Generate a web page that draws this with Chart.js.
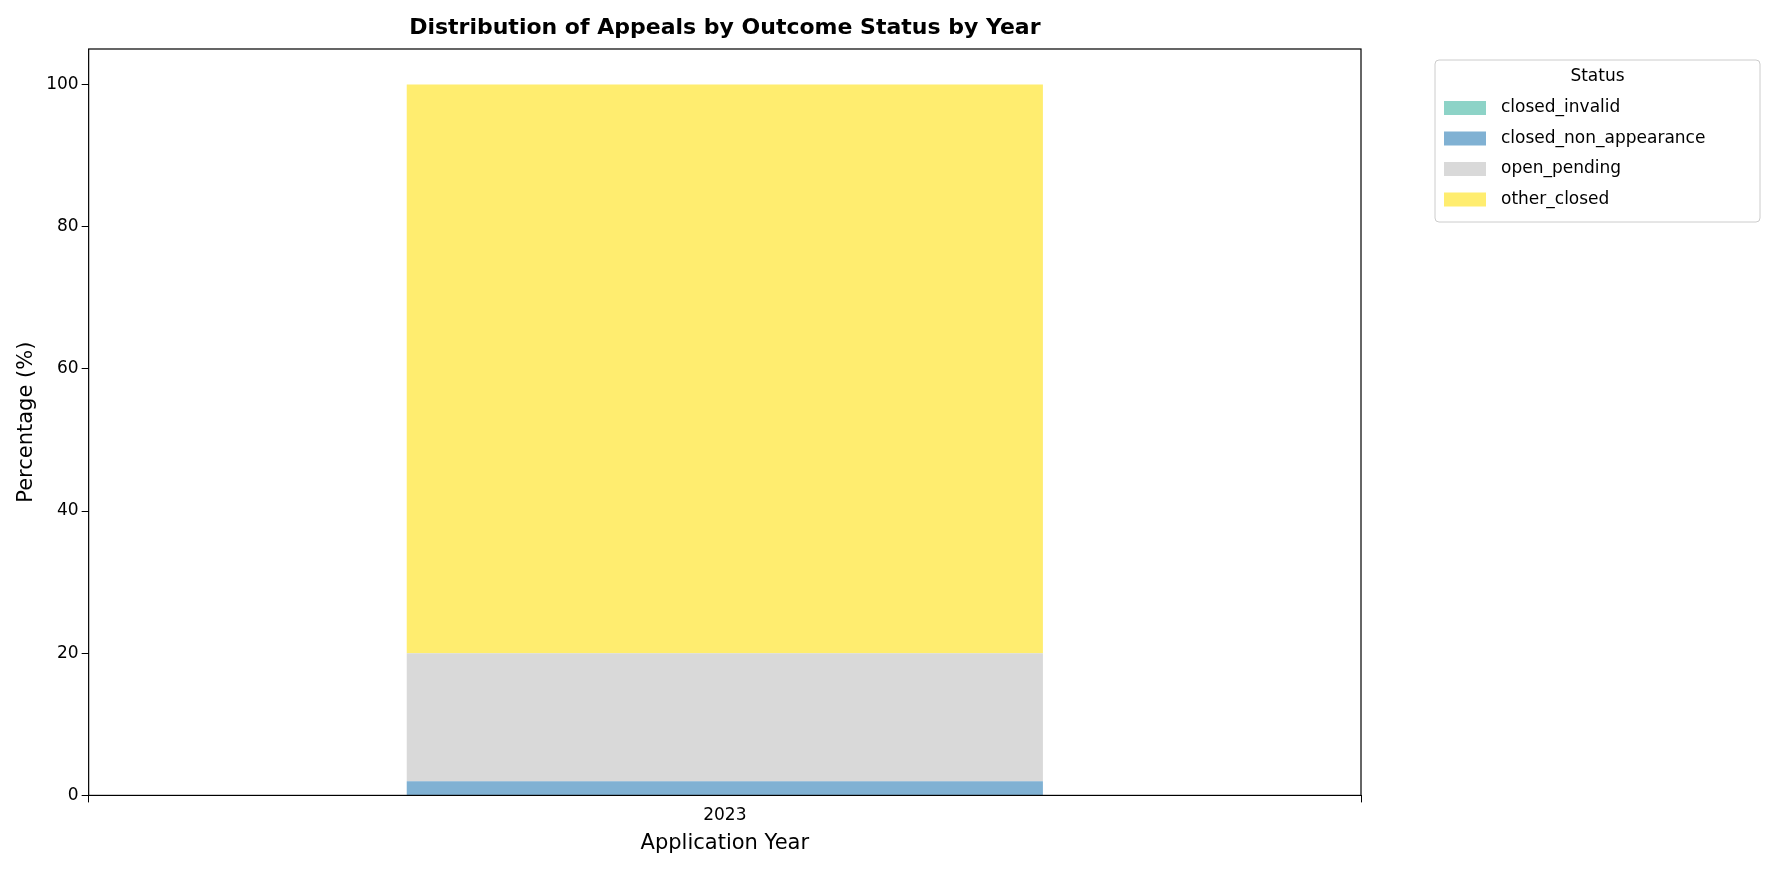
<!DOCTYPE html>
<html><head><meta charset="utf-8">
<script src="https://cdn.jsdelivr.net/npm/chart.js@4"></script>
<style>html,body{margin:0;background:#fff}#w{width:1775px;height:880px}</style>
</head><body><div id="w"><canvas id="c" width="1775" height="880"></canvas></div>
<script>
const years = ["2023"];
const statuses = ["closed_invalid","closed_non_appearance","open_pending","other_closed"];
const closedInvalid = [0];
const closedNonAppearance = [2];
const openPending = [18];
const otherClosed = [80];
const yTicks = [0,20,40,60,80,100];
const colors = ["#8dd3c7","#80b1d3","#d9d9d9","#ffed6f"];
const series = [closedInvalid, closedNonAppearance, openPending, otherClosed];
const F = "DejaVu Sans";
const frame = {id:'frame', afterDraw(ch){
  const {ctx, chartArea:a} = ch;
  ctx.save(); ctx.strokeStyle='#000'; ctx.lineWidth=1.2;
  ctx.strokeRect(a.left, a.top, a.right-a.left, a.bottom-a.top);
  ctx.fillStyle='#000'; ctx.font='bold 22px '+F; ctx.textAlign='center'; ctx.textBaseline='middle';
  ctx.fillText('Distribution of Appeals by Outcome Status by Year', (a.left+a.right)/2, 28);
  // legend
  const x0=1435, y0=60, w=325, h=162;
  ctx.strokeStyle='#ccc'; ctx.lineWidth=1; ctx.fillStyle='#fff';
  ctx.beginPath(); ctx.roundRect(x0,y0,w,h,4); ctx.fill(); ctx.stroke();
  ctx.fillStyle='#000'; ctx.font='17px '+F; ctx.textAlign='center';
  ctx.fillText('Status', x0+w/2, y0+17);
  ctx.textAlign='left';
  statuses.forEach((s,i)=>{const yy=y0+48+i*30.5;
    ctx.fillStyle=colors[i]; ctx.fillRect(x0+9, yy-7, 42, 14);
    ctx.fillStyle='#000'; ctx.fillText(s, x0+66, yy);});
  ctx.restore();
}};
new Chart(document.getElementById('c'), {
  type:'bar',
  data:{labels:years, datasets: statuses.map((s,i)=>({label:s, data:series[i], backgroundColor:colors[i], barPercentage:0.5, categoryPercentage:1}))},
  options:{responsive:false, animation:false,
    layout:{padding:{left:10,right:414,top:49,bottom:20}},
    plugins:{legend:{display:false}, tooltip:{enabled:false}, title:{display:false}},
    scales:{
      x:{stacked:true, grid:{display:true, drawOnChartArea:false, color:'#000', tickLength:7}, border:{display:false},
        ticks:{font:{family:F,size:17}, color:'#000'},
        title:{display:true, text:'Application Year', font:{family:F,size:21}, color:'#000', padding:{top:2}}},
      y:{stacked:true, min:0, max:105, afterBuildTicks(ax){ax.ticks=yTicks.map(v=>({value:v}));},
        grid:{display:true, drawOnChartArea:false, color:'#000', tickLength:7}, border:{display:false},
        ticks:{font:{family:F,size:17}, color:'#000'},
        title:{display:true, text:'Percentage (%)', font:{family:F,size:21}, color:'#000'}}
    }},
  plugins:[frame]
});
</script></body></html>
